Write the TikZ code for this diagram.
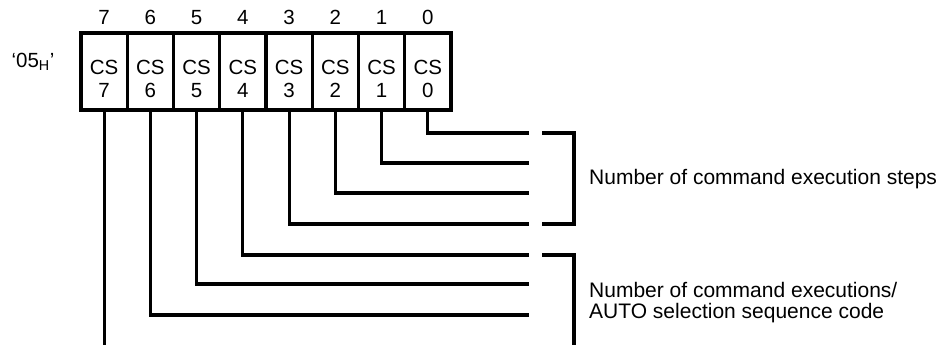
\documentclass[tikz,border=0pt]{standalone}
\usepackage{fontspec}
\setmainfont{Liberation Sans}
\begin{document}
\begin{tikzpicture}[x=1pt, y=1pt, font=\fontsize{20.5}{22}\selectfont,
		cell/.style={draw, line width=3.2pt, minimum width=46.25pt, minimum height=77pt, inner sep=0pt},
		cstext/.style={align=center, inner sep=0pt, font=\fontsize{20.5}{23}\selectfont},
		note/.style={anchor=west, align=left, inner sep=0pt, font=\fontsize{21}{21.5}\selectfont},
		wire/.style={line width=3.2pt}]
		\useasboundingbox (0,0) rectangle (944,345);
		% register cells, bit 7 on the left
		\foreach \x [count=\p] in {7,...,0} {
			\node[cell] (c\x) at (57.85+\p*46.25, 273.5) {};
			\node[cstext] (t\x) at (57.85+\p*46.25, 266.5) {CS\\\x};
			\node[inner sep=0pt] (b\x) at (57.85+\p*46.25, 327.5) {\x};
		};
		\node[inner sep=0pt] (reg) at (33, 283) {‘05\textsubscript{H}’};
		% wires from the cells
		\foreach \x/\y in {0/212,1/182,2/152,3/121,4/90,5/61,6/30} {
			\coordinate (e\x) at (529, \y);
			\draw[wire] (c\x.south) |- (e\x);
		};
		\coordinate (e7) at (c7.south |- 0,0);
		\draw[wire] (c7.south) -- (e7);
		% brackets
		\draw[wire] (542,212) -| (574,121) -- (542,121);
		\draw[wire] (542,90) -| (574,0);
		\node[note] (steps) at (589, 166) {Number of command execution steps};
		\node[note] (execs) at (589, 42.5) {Number of command executions/\\AUTO selection sequence code};
		%		\draw [dotted, gray] (0,0) grid[step=50] (944,345);
\end{tikzpicture}
\end{document}
